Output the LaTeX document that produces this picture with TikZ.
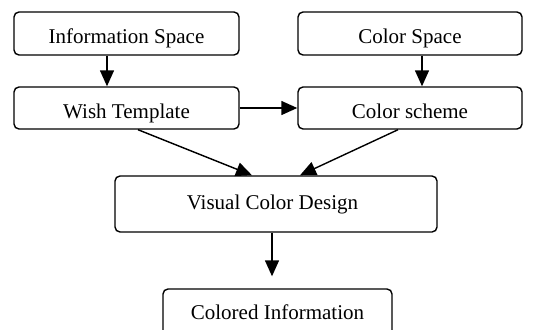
\documentclass[tikz,border=0pt]{standalone}
\usepackage{fontspec}
\setmainfont{Liberation Serif}
\usetikzlibrary{arrows.meta}
\begin{document}
\begin{tikzpicture}[x=1pt,y=-1pt,
  box/.style={draw,line width=1.4pt,rounded corners=5pt,inner sep=0pt},
  lbl/.style={anchor=base,inner sep=0pt,font=\fontsize{21}{24}\selectfont},
  arr/.style={line width=1.4pt,-{Triangle[length=16pt,width=14pt]}}]
\useasboundingbox (0,0) rectangle (534,329);
\clip (0,0) rectangle (534,329);
\node[box,minimum width=225pt,minimum height=43pt] (i) at (126.5,33.5) {};
\node[box,minimum width=224pt,minimum height=43pt] (cs) at (410,33.5) {};
\node[box,minimum width=225pt,minimum height=42pt] (w) at (126.5,108) {};
\node[box,minimum width=224pt,minimum height=42pt] (c) at (410,108) {};
\node[box,minimum width=322pt,minimum height=56pt] (v) at (276,204) {};
\node[box,minimum width=229pt,minimum height=50pt] (o) at (277.5,314) {};
\node[lbl] (it) at (126.5,43) {Information Space};
\node[lbl] (cst) at (410,43) {Color Space};
\node[lbl] (wt) at (126.5,118) {Wish Template};
\node[lbl] (ct) at (410,118) {Color scheme};
\node[lbl] (vt) at (272.5,209) {Visual Color Design};
\node[lbl] (ot) at (277.5,319) {Colored Information};
\draw[arr] ([xshift=-19.5pt]i.south) -- ([xshift=-19.5pt]w.north);
\draw[arr] ([xshift=12pt]cs.south) -- ([xshift=12pt]c.north);
\draw[arr] (w.east) -- (c.west);
\draw[arr] ([xshift=11.5pt]w.south) -- ([xshift=-24pt]v.north);
\draw[arr] ([xshift=-12pt]c.south) -- ([xshift=24pt]v.north);
\draw[arr,shorten >=12pt] ([xshift=-4pt]v.south) -- ([xshift=-5.5pt]o.north);
\end{tikzpicture}
\end{document}
